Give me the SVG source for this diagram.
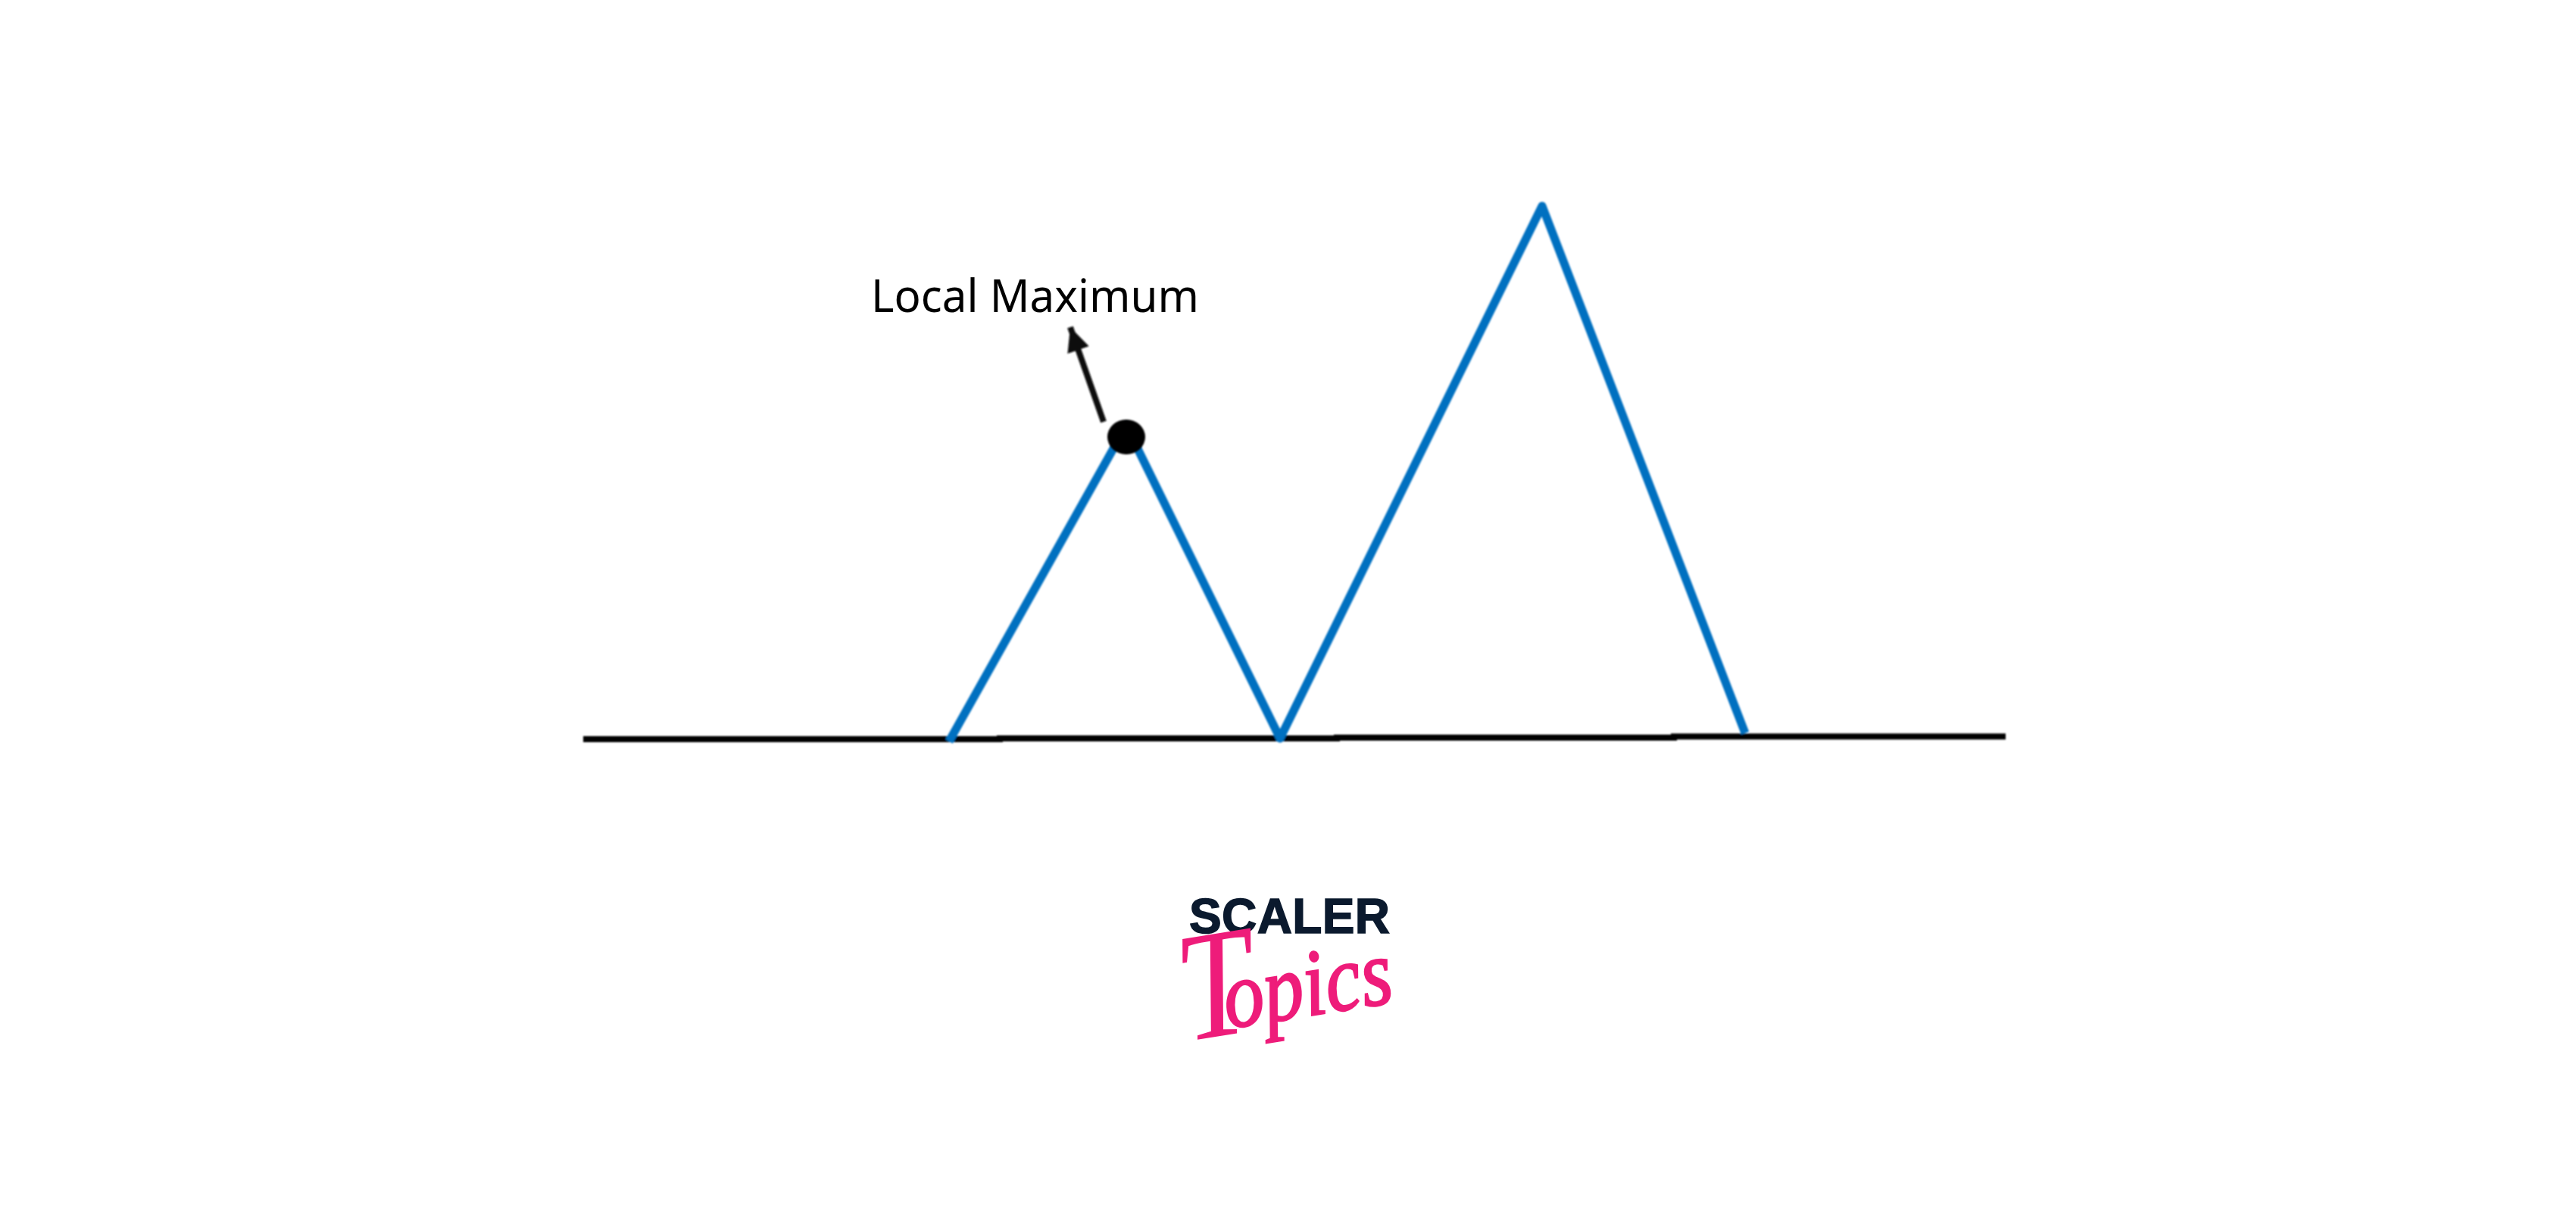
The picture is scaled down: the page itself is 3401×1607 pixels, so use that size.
<svg xmlns="http://www.w3.org/2000/svg" width="3401" height="1607" viewBox="0 0 3401 1607">
<style>
.curve{fill:none;stroke:#0070c0;stroke-width:11;stroke-linejoin:round;stroke-linecap:butt}
.base{fill:none;stroke:#000;stroke-width:8}
.label{font-family:"Noto Sans","Liberation Sans",sans-serif;font-size:61px;fill:#000}
.scaler{font-family:"Liberation Sans",Arial,sans-serif;font-weight:700;font-size:64px;fill:#0b1a2e;stroke:#0b1a2e;stroke-width:1.500}
.topics{font-family:"Liberation Serif",serif;font-style:italic;fill:#ee1c7a}
.lower{stroke:#ee1c7a;stroke-width:2.500}
</style>
<defs>
<filter id="soft" x="-5%" y="-5%" width="110%" height="110%"><feGaussianBlur stdDeviation="1"/></filter>
<marker id="head" markerUnits="userSpaceOnUse" markerWidth="36" markerHeight="36" refX="32" refY="15" orient="auto"><path d="M0 0L32 15L0 30Z" fill="#111"/></marker>
</defs>
<rect width="3401" height="1607" fill="#fff"/>
<g id="connectors" filter="url(#soft)">
<path class="base" d="M770 976H1320V975H1765V974H2210V972.500H2648"/>
<path class="curve" d="M1253 979L1487 562L1690 975L2036 272L2304 968"/>
<line x1="1457" y1="557" x2="1413" y2="432" stroke="#111" stroke-width="8" marker-end="url(#head)"/>
</g>
<g id="local-maximum">
<ellipse cx="1487" cy="577" rx="25" ry="23" fill="#000" filter="url(#soft)"/>
<text class="label" x="1150" y="412" textLength="433" lengthAdjust="spacingAndGlyphs">Local Maximum</text>
</g>
<g id="logo">
<text class="scaler" x="1570" y="1232" textLength="265" lengthAdjust="spacing">SCALER</text>
<text class="topics" transform="translate(1565 1367) rotate(-9) scale(.85 1)"><tspan font-size="205" dy="8">T</tspan><tspan class="lower" font-size="125" dx="-47" dy="-8">opics</tspan></text>
</g>
</svg>
